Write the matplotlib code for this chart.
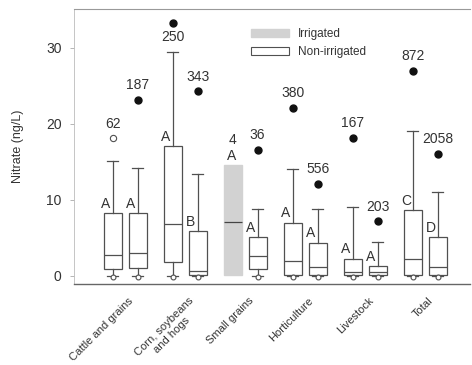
import matplotlib
matplotlib.use("Agg")
import matplotlib.pyplot as plt
from matplotlib.patches import Patch
import numpy as np

plt.rcParams["font.family"] = ["Liberation Sans", "DejaVu Sans"]

# ---- data --------------------------------------------------------------- #
categories = ["Cattle and grains", "Corn, soybeans\nand hogs", "Small grains",
              "Horticulture", "Livestock", "Total"]

# irrigated
irr_n = ["62", "250", "4", "380", "167", "872"]
irr_q1 = [0.9, 1.8, 0.1, 0.1, 0.1, 0.1]
irr_med = [2.8, 6.8, 7.1, 2.0, 0.5, 2.3]
irr_q3 = [8.3, 17.1, 14.6, 7.0, 2.3, 8.7]
irr_whi = [15.1, 29.5, 14.6, 14.1, 9.1, 19.1]
irr_out = [18.1, 33.3, None, 22.1, 18.2, 27.0]
irr_letter = ["A", "A", "A", "A", "A", "C"]

# non-irrigated
non_n = ["187", "343", "36", "556", "203", "2058"]
non_q1 = [1.1, 0.1, 0.9, 0.1, 0.1, 0.1]
non_med = [3.0, 0.6, 2.6, 1.2, 0.5, 1.2]
non_q3 = [8.3, 5.9, 5.1, 4.4, 1.3, 5.1]
non_whi = [14.2, 13.4, 8.8, 8.8, 4.5, 11.0]
non_out = [23.2, 24.3, 16.6, 12.1, 7.2, 16.1]
non_letter = ["A", "B", "A", "A", "A", "D"]

# first outlier of cattle/grains irrigated is drawn as an open circle
irr_open = [True, False, False, False, False, False]
non_open = [False] * 6
# "250" sits between the whisker cap and its outlier
irr_n_below = [False, True, False, False, False, False]
non_n_below = [False] * 6

LINE = "#505050"
TEXT = "#333333"
GRAY = "#d2d2d2"

fig = plt.figure(figsize=(4.72, 3.65), dpi=100)
ax = fig.add_axes([0.157, 0.222, 0.839, 0.753])

x = np.arange(len(categories))
off = 0.208
bw = 0.3


def stats(q1, med, q3, whi):
    return [dict(q1=a, med=b, q3=c, whislo=0.05 if c != w else a, whishi=w,
                 fliers=[]) for a, b, c, w in zip(q1, med, q3, whi)]


common = dict(widths=bw, patch_artist=True, showfliers=False, capwidths=0.18,
              whiskerprops=dict(color=LINE, lw=0.9),
              capprops=dict(color=LINE, lw=0.9),
              medianprops=dict(color=LINE, lw=0.9))

b1 = ax.bxp(stats(irr_q1, irr_med, irr_q3, irr_whi), positions=x - off,
            **common)
b2 = ax.bxp(stats(non_q1, non_med, non_q3, non_whi), positions=x + off,
            **common)
for i, p in enumerate(b1["boxes"]):
    if irr_whi[i] == irr_q3[i]:
        # small grains irrigated: shaded box only
        p.set_facecolor(GRAY)
        p.set_edgecolor(GRAY)
        for ln in b1["whiskers"][2 * i:2 * i + 2] + b1["caps"][2 * i:2 * i + 2]:
            ln.set_visible(False)
        b1["medians"][i].set_color("#444444")
    else:
        p.set_facecolor("white")
        p.set_edgecolor(LINE)
        p.set_linewidth(0.9)
for p in b2["boxes"]:
    p.set_facecolor("white")
    p.set_edgecolor(LINE)
    p.set_linewidth(0.9)

groups = [(x - off, irr_q3, irr_whi, irr_out, irr_n, irr_letter, irr_open,
           irr_n_below),
          (x + off, non_q3, non_whi, non_out, non_n, non_letter, non_open,
           non_n_below)]

for xs, q3, whi, out, cnt, let, opn, below in groups:
    for i, xi in enumerate(xs):
        boxonly = whi[i] == q3[i]
        # minimum marker at zero
        if not boxonly:
            ax.plot(xi, -0.1, "o", ms=3.5, mfc="white", mec=LINE, mew=0.8,
                    zorder=4)
        top = whi[i]
        if out[i] is not None:
            if opn[i]:
                ax.plot(xi, out[i], "o", ms=4.5, mfc="white", mec=LINE,
                        mew=0.8)
            else:
                ax.plot(xi, out[i], "o", ms=5, color="#111111")
            top = out[i]
        if boxonly:
            ax.text(xi - 0.02, q3[i] + 0.3, let[i], ha="center", va="bottom",
                    fontsize=10, color=TEXT)
            ax.text(xi, q3[i] + 2.3, cnt[i], ha="center", va="bottom",
                    fontsize=10, color=TEXT)
            continue
        if below[i]:
            ax.text(xi, top - 1.0, cnt[i], ha="center", va="top",
                    fontsize=10, color=TEXT)
        else:
            ax.text(xi, top + 1.0, cnt[i], ha="center", va="bottom",
                    fontsize=10, color=TEXT)
        ax.text(xi - 0.11, q3[i] + 0.3, let[i], ha="center", va="bottom",
                fontsize=10, color=TEXT)

ax.set_xlim(-0.85, 5.75)
ax.set_ylim(-1.05, 35.1)
ax.set_yticks([0, 10, 20, 30])
ax.tick_params(axis="y", length=3, width=0.6, colors="#aaaaaa",
               labelcolor=TEXT, labelsize=10, pad=6)
ax.set_xticks(x)
ax.set_xticklabels([])
ax.tick_params(axis="x", length=0)
for i, c in enumerate(categories):
    ax.text(x[i] + 0.05, -2.6, c, rotation=45, ha="right", va="top",
            fontsize=8, color=TEXT, rotation_mode="anchor",
            multialignment="center")

ax.spines["right"].set_visible(False)
ax.spines["left"].set_color("#bbbbbb")
ax.spines["left"].set_linewidth(0.6)
ax.spines["top"].set_color("#999999")
ax.spines["top"].set_linewidth(0.8)
ax.spines["bottom"].set_color("#666666")
ax.spines["bottom"].set_linewidth(1.0)

ax.set_ylabel("Nitrate (ng/L)", fontsize=9, color=TEXT, labelpad=16)

handles = [Patch(facecolor=GRAY, edgecolor=GRAY, label="Irrigated"),
           Patch(facecolor="white", edgecolor=LINE, lw=0.8,
                 label="Non-irrigated")]
ax.legend(handles=handles, loc="upper left", bbox_to_anchor=(0.42, 0.97),
          frameon=False, fontsize=8.5, handlelength=3.2, handleheight=0.7,
          labelspacing=0.5, handletextpad=0.8, labelcolor=TEXT)

fig.savefig("out.png", dpi=100)
